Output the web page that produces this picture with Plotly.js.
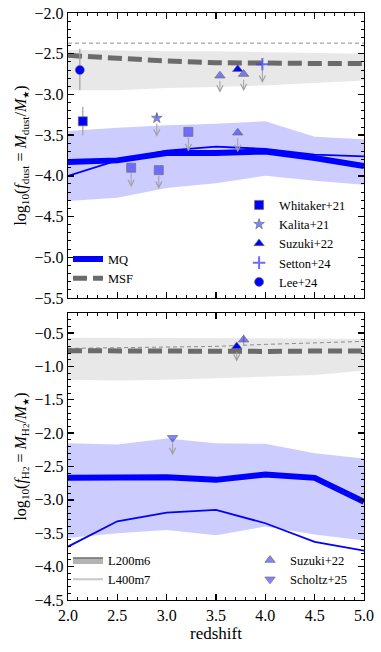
<!DOCTYPE html>
<html>
<head>
<meta charset="utf-8">
<script src="https://cdn.plot.ly/plotly-3.0.1.min.js"></script>
<style>
  html, body { margin: 0; padding: 0; background: #fff; }
  #myPlot { width: 381px; height: 652px; }
</style>
</head>
<body>
<div id="myPlot"></div>
<script>
/**
 * Simulation curves on a common redshift grid
 */
const redshift = [2.0, 2.5, 3.0, 3.5, 4.0, 4.5, 5.0];

// dust-to-stellar mass
const msfDustHi = [-2.45, -2.46, -2.47, -2.47, -2.48, -2.49, -2.50];
const msfDustLo = [-2.95, -2.95, -2.92, -2.91, -2.89, -2.86, -2.83];
const msfDustMed = [-2.52, -2.56, -2.59, -2.61, -2.62, -2.62, -2.62];
const msfDustL400 = [-2.37, -2.37, -2.37, -2.37, -2.37, -2.37, -2.37];
const mqDustHi = [-3.45, -3.41, -3.38, -3.36, -3.33, -3.52, -3.55];
const mqDustLo = [-4.31, -4.27, -4.15, -4.09, -4.00, -4.06, -4.11];
const mqDustMed = [-3.83, -3.81, -3.72, -3.72, -3.70, -3.78, -3.88];
const mqDustL400 = [-4.00, -3.81, -3.69, -3.64, -3.67, -3.74, -3.76];

// H2-to-stellar mass
const msfH2Hi = [-0.57, -0.57, -0.57, -0.57, -0.57, -0.58, -0.59];
const msfH2Lo = [-1.20, -1.21, -1.20, -1.18, -1.16, -1.13, -1.06];
const msfH2Med = [-0.765, -0.77, -0.775, -0.775, -0.775, -0.77, -0.77];
const msfH2L400 = [-0.73, -0.72, -0.71, -0.70, -0.67, -0.65, -0.625];
const mqH2Hi = [-2.15, -2.17, -2.08, -2.15, -2.16, -2.30, -2.38];
const mqH2Lo = [-3.57, -3.50, -3.45, -3.53, -3.40, -3.52, -3.61];
const mqH2Med = [-2.67, -2.67, -2.66, -2.70, -2.62, -2.67, -3.03];
const mqH2L400 = [-3.70, -3.32, -3.19, -3.15, -3.35, -3.63, -3.76];

/**
 * Observations (dust)
 */
const leeZ = [2.12], leeY = [-2.70], leeUp = [0.26], leeDn = [0.25];
const whitZ = [2.15], whitY = [-3.33], whitUp = [0.18], whitDn = [0.17];
const whitLimZ = [2.64, 2.92, 3.22], whitLimY = [-3.90, -3.93, -3.46], whitLimEnd = [-4.14, -4.16, -3.70];
const kalZ = [2.90], kalY = [-3.29], kalUp = [0.06], kalEnd = [-3.52];
const suzDustZ = [3.72], suzDustY = [-2.69];
const suzLimZ = [3.54, 3.78, 3.72], suzLimY = [-2.77, -2.75, -3.47], suzLimEnd = [-2.98, -2.96, -3.71];
const setZ = [3.97], setY = [-2.63], setUp = [0.05], setEnd = [-2.86];

/**
 * Observations (H2)
 */
const suzH2Z = [3.71], suzH2Y = [-0.70], suzH2End = [-0.93];
const suzH2bZ = [3.78], suzH2bY = [-0.60], suzH2bErr = [0.08];
const schZ = [3.06], schY = [-2.07], schEnd = [-2.33];

const colors = {
  blue: "#0000ff",
  lightBlue: "rgba(30,30,255,0.55)",
  blueBand: "rgba(0,0,255,0.2)",
  grayBand: "rgba(150,150,150,0.22)",
  dash: "#6b6b6b",
  thinDash: "#8c8c8c",
  err: "#a0a0a0",
  edge: "rgba(110,110,110,0.7)"
};

const font = "'Liberation Serif', 'Times New Roman', Times, serif";
const starSub = "<sub><span style=\"font-family:'DejaVu Sans';font-size:9px\">★</span></sub>";
const h2Sub = "<sub>H<span style=\"font-size:9px\">2</span></sub>";

const band = (lo, hi, color, xa, ya) => [
  { type: "scatter", mode: "lines", x: redshift, y: lo, xaxis: xa, yaxis: ya,
    line: { width: 0 }, showlegend: false, hoverinfo: "skip" },
  { type: "scatter", mode: "lines", x: redshift, y: hi, xaxis: xa, yaxis: ya,
    line: { width: 0 }, fill: "tonexty", fillcolor: color, showlegend: false, hoverinfo: "skip" }
];

const line = (y, color, width, dash, xa, ya, extra) => Object.assign({
  type: "scatter", mode: "lines", x: redshift, y: y, xaxis: xa, yaxis: ya,
  line: { color: color, width: width, dash: dash }, showlegend: false
}, extra || {});

const points = (x, y, symbol, color, size, xa, ya, extra) => Object.assign({
  type: "scatter", mode: "markers", x: x, y: y, xaxis: xa, yaxis: ya,
  marker: { symbol: symbol, color: color, size: size, line: { color: colors.edge, width: 1 } },
  showlegend: false
}, extra || {});

const errs = (up, dn) => ({ type: "data", symmetric: false, array: up, arrayminus: dn,
  color: colors.err, thickness: 1.2, width: 0 });

const data = [
  ...band(msfDustLo, msfDustHi, colors.grayBand, "x", "y"),
  ...band(mqDustLo, mqDustHi, colors.blueBand, "x", "y"),
  line(msfDustL400, colors.thinDash, 1, "4px,3px", "x", "y"),
  line(mqDustL400, colors.blue, 1.8, "solid", "x", "y"),
  line(msfDustMed, colors.dash, 5, "14px,6px", "x", "y", { name: "MSF", showlegend: true, legend: "legend" }),
  line(mqDustMed, colors.blue, 6, "solid", "x", "y", { name: "MQ", showlegend: true, legend: "legend" }),
  points(whitLimZ, whitLimY, "square", colors.lightBlue, 9, "x", "y"),
  points(suzLimZ, suzLimY, "triangle-up", colors.lightBlue, 9, "x", "y"),
  points(whitZ, whitY, "square", colors.blue, 9, "x", "y",
    { error_y: errs(whitUp, whitDn), name: "Whitaker+21", showlegend: true, legend: "legend2" }),
  points(kalZ, kalY, "star", colors.lightBlue, 8, "x", "y",
    { error_y: errs(kalUp, [0]), name: "Kalita+21", showlegend: true, legend: "legend2" }),
  points(suzDustZ, suzDustY, "triangle-up", colors.blue, 9, "x", "y",
    { name: "Suzuki+22", showlegend: true, legend: "legend2" }),
  points(setZ, setY, "cross-thin-open", "rgba(60,60,255,0.75)", 9, "x", "y",
    { error_y: errs(setUp, [0]), name: "Setton+24", showlegend: true, legend: "legend2",
      marker: { symbol: "cross-thin-open", color: "rgba(60,60,255,0.75)", size: 9,
        line: { color: "rgba(60,60,255,0.75)", width: 2 } } }),
  points(leeZ, leeY, "circle", colors.blue, 9, "x", "y",
    { error_y: errs(leeUp, leeDn), name: "Lee+24", showlegend: true, legend: "legend2" }),

  ...band(msfH2Lo, msfH2Hi, colors.grayBand, "x2", "y2"),
  ...band(mqH2Lo, mqH2Hi, colors.blueBand, "x2", "y2"),
  line(msfH2L400, colors.thinDash, 1, "4px,3px", "x2", "y2"),
  line(mqH2L400, colors.blue, 1.8, "solid", "x2", "y2"),
  line(msfH2Med, colors.dash, 5, "14px,6px", "x2", "y2"),
  line(mqH2Med, colors.blue, 6, "solid", "x2", "y2"),
  points(suzH2Z, suzH2Y, "triangle-up", colors.blue, 9, "x2", "y2"),
  points(suzH2bZ, suzH2bY, "triangle-up", colors.lightBlue, 9, "x2", "y2",
    { error_y: errs(suzH2bErr, suzH2bErr), name: "Suzuki+22", showlegend: true, legend: "legend4" }),
  points(schZ, schY, "triangle-down", colors.lightBlue, 9, "x2", "y2",
    { name: "Scholtz+25", showlegend: true, legend: "legend4" }),

  // resolution legend entries
  { type: "scatter", mode: "lines", x: [null], y: [null], xaxis: "x2", yaxis: "y2",
    fill: "toself", fillcolor: "#b4b4b4", line: { color: "#6e6e6e", width: 1.5 },
    name: "L200m6", legend: "legend3" },
  { type: "scatter", mode: "lines", x: [null], y: [null], xaxis: "x2", yaxis: "y2",
    line: { color: "#c8c8c8", width: 2 }, name: "L400m7", legend: "legend3" }
];

/**
 * Upper limit arrows
 */
const arrows = (xs, ys, ends, xref, yref) => xs.map((x, i) => ({
  x: x, y: ends[i], ax: x, ay: ys[i], xref: xref, yref: yref, axref: xref, ayref: yref,
  text: "", showarrow: true, arrowhead: 5, arrowsize: 1.2, arrowwidth: 1,
  arrowcolor: colors.err, startstandoff: 4, standoff: 0
}));

const annotations = [
  ...arrows(whitLimZ, whitLimY, whitLimEnd, "x", "y"),
  ...arrows(kalZ, kalY, kalEnd, "x", "y"),
  ...arrows(suzLimZ, suzLimY, suzLimEnd, "x", "y"),
  ...arrows(setZ, setY, setEnd, "x", "y"),
  ...arrows(suzH2Z, suzH2Y, suzH2End, "x2", "y2"),
  ...arrows(schZ, schY, schEnd, "x2", "y2")
];

const axisStyle = {
  showline: true, linecolor: "black", linewidth: 1.3, mirror: "allticks",
  ticks: "inside", ticklen: 6, tickwidth: 1.3, tickcolor: "black",
  showgrid: false, zeroline: false,
  tickfont: { family: font, size: 16, color: "black" },
  minor: { ticks: "inside", ticklen: 3, tickwidth: 1, tickcolor: "black", dtick: 0.1, showgrid: false }
};

const legendStyle = {
  bgcolor: "rgba(0,0,0,0)", borderwidth: 0, tracegroupgap: 0,
  font: { family: font, size: 12.5, color: "black" }, xanchor: "left", yanchor: "top"
};

const layout = {
  width: 381,
  height: 652,
  margin: { l: 68, r: 17, t: 13, b: 52 },
  paper_bgcolor: "white",
  plot_bgcolor: "white",
  font: { family: font, color: "black" },
  showlegend: true,
  xaxis: Object.assign({}, axisStyle, { range: [2, 5], dtick: 0.5, anchor: "y", showticklabels: false }),
  yaxis: Object.assign({}, axisStyle, {
    range: [-5.5, -2.0], dtick: 0.5, tickformat: ".1f", domain: [0.5145, 1], anchor: "x",
    title: { text: "log<sub>10</sub>(<i>f</i><sub>dust</sub> = <i>M</i><sub>dust</sub>/<i>M</i>" + starSub + ")",
      font: { family: font, size: 16 }, standoff: 4 }
  }),
  xaxis2: Object.assign({}, axisStyle, {
    range: [2, 5], dtick: 0.5, tickformat: ".1f", anchor: "y2",
    title: { text: "redshift", font: { family: font, size: 17 }, standoff: 4 }
  }),
  yaxis2: Object.assign({}, axisStyle, {
    range: [-4.5, -0.2], dtick: 0.5, tick0: -4.5, tickformat: ".1f", domain: [0, 0.4889], anchor: "x2",
    title: { text: "log<sub>10</sub>(<i>f</i>" + h2Sub + " = <i>M</i>" + h2Sub + "/<i>M</i>" + starSub + ")",
      font: { family: font, size: 16 }, standoff: 4 }
  }),
  legend: Object.assign({}, legendStyle, { x: 0.0, y: 0.606 }),
  legend2: Object.assign({}, legendStyle, { x: 0.578, y: 0.698 }),
  legend3: Object.assign({}, legendStyle, { x: 0.0, y: 0.093 }),
  legend4: Object.assign({}, legendStyle, { x: 0.615, y: 0.093 }),
  annotations: annotations
};

Plotly.newPlot("myPlot", data, layout, { displayModeBar: false, staticPlot: true });
</script>
</body>
</html>
